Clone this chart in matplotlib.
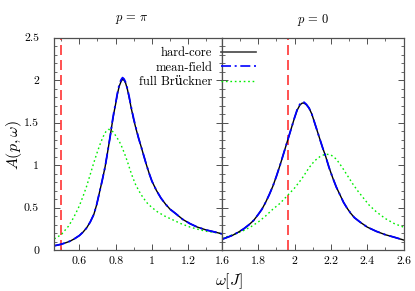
import matplotlib
matplotlib.use("Agg")
import matplotlib.pyplot as plt
from matplotlib.ticker import MultipleLocator, FixedLocator, FixedFormatter
from matplotlib.lines import Line2D

plt.rcParams['font.family'] = ['cmr10', 'DejaVu Serif']
plt.rcParams['mathtext.fontset'] = 'cm'
plt.rcParams['axes.formatter.use_mathtext'] = True

# ---------------- data ----------------
# p = pi panel
w_pi_hc = [0.462, 0.48, 0.50, 0.525, 0.55, 0.575, 0.60, 0.62, 0.64, 0.66, 0.68, 0.695,
           0.71, 0.725, 0.742, 0.757, 0.77, 0.78, 0.79, 0.80, 0.81, 0.82, 0.83, 0.838,
           0.846, 0.855, 0.865, 0.875, 0.885, 0.90, 0.913, 0.926, 0.94, 0.955, 0.97,
           0.985, 1.00, 1.025, 1.05, 1.075, 1.10, 1.13, 1.17, 1.21, 1.25, 1.30, 1.35, 1.386]
A_pi_hc = [0.05, 0.058, 0.068, 0.085, 0.105, 0.135, 0.17, 0.21, 0.26, 0.33, 0.42, 0.53,
           0.67, 0.81, 0.98, 1.17, 1.34, 1.48, 1.61, 1.72, 1.84, 1.93, 1.985, 2.01,
           2.00, 1.965, 1.89, 1.79, 1.68, 1.53, 1.42, 1.32, 1.22, 1.11, 1.00,
           0.90, 0.81, 0.70, 0.61, 0.54, 0.48, 0.43, 0.36, 0.31, 0.27, 0.235, 0.21, 0.19]
A_pi_mf = [0.05, 0.058, 0.068, 0.085, 0.105, 0.135, 0.17, 0.21, 0.26, 0.33, 0.42, 0.53,
           0.67, 0.81, 0.98, 1.17, 1.34, 1.49, 1.62, 1.73, 1.85, 1.95, 2.005, 2.03,
           2.015, 1.975, 1.90, 1.80, 1.69, 1.54, 1.43, 1.32, 1.22, 1.11, 1.00,
           0.90, 0.81, 0.70, 0.61, 0.54, 0.48, 0.43, 0.36, 0.31, 0.27, 0.235, 0.21, 0.19]
w_pi_br = [0.462, 0.48, 0.50, 0.52, 0.54, 0.56, 0.58, 0.60, 0.62, 0.64, 0.66, 0.68, 0.70,
           0.715, 0.73, 0.745, 0.76, 0.775, 0.79, 0.805, 0.82, 0.835, 0.85, 0.865, 0.88,
           0.895, 0.91, 0.93, 0.95, 0.975, 1.00, 1.03, 1.07, 1.11, 1.16, 1.21, 1.26,
           1.30, 1.35, 1.386]
A_pi_br = [0.13, 0.155, 0.18, 0.23, 0.28, 0.35, 0.43, 0.52, 0.63, 0.75, 0.89, 1.03, 1.16,
           1.25, 1.33, 1.39, 1.42, 1.415, 1.38, 1.33, 1.28, 1.21, 1.13, 1.04, 0.94,
           0.85, 0.77, 0.69, 0.62, 0.55, 0.50, 0.45, 0.40, 0.36, 0.31, 0.27, 0.24,
           0.22, 0.205, 0.19]

# p = 0 panel
w_0_hc = [1.60, 1.63, 1.66, 1.69, 1.72, 1.75, 1.775, 1.80, 1.82, 1.84, 1.86, 1.88, 1.90,
          1.92, 1.94, 1.96, 1.98, 2.00, 2.015, 2.03, 2.042, 2.052, 2.065, 2.08, 2.095,
          2.11, 2.125, 2.14, 2.155, 2.17, 2.19, 2.21, 2.23, 2.25, 2.27, 2.29, 2.31, 2.33,
          2.36, 2.40, 2.45, 2.50, 2.55, 2.60]
A_0_hc = [0.126, 0.15, 0.175, 0.21, 0.25, 0.30, 0.35, 0.42, 0.48, 0.56, 0.65, 0.75, 0.87,
          1.00, 1.14, 1.28, 1.42, 1.56, 1.65, 1.71, 1.73, 1.73, 1.71, 1.67, 1.60,
          1.50, 1.40, 1.30, 1.20, 1.11, 0.97, 0.85, 0.74, 0.65, 0.56, 0.49, 0.43, 0.38,
          0.33, 0.27, 0.22, 0.18, 0.15, 0.118]
A_0_mf = [0.126, 0.15, 0.175, 0.21, 0.25, 0.30, 0.35, 0.42, 0.48, 0.56, 0.65, 0.75, 0.87,
          1.00, 1.14, 1.28, 1.42, 1.56, 1.66, 1.72, 1.745, 1.74, 1.715, 1.67, 1.60,
          1.50, 1.40, 1.30, 1.20, 1.11, 0.97, 0.85, 0.74, 0.65, 0.56, 0.49, 0.43, 0.38,
          0.33, 0.27, 0.22, 0.18, 0.15, 0.118]
w_0_br = [1.60, 1.64, 1.68, 1.72, 1.76, 1.80, 1.84, 1.88, 1.92, 1.96, 2.00, 2.04, 2.08,
          2.11, 2.14, 2.17, 2.20, 2.23, 2.26, 2.29, 2.32, 2.35, 2.38, 2.41, 2.45, 2.50,
          2.55, 2.60]
A_0_br = [0.14, 0.165, 0.195, 0.23, 0.275, 0.33, 0.40, 0.48, 0.55, 0.64, 0.73, 0.84, 0.97,
          1.05, 1.10, 1.13, 1.12, 1.07, 0.98, 0.88, 0.78, 0.69, 0.61, 0.53, 0.45, 0.37,
          0.31, 0.27]

# thresholds (red dashed)
thr_pi = 0.497
thr_0 = 1.966

xlim_pi = (0.462, 1.386)
xlim_0 = (1.6, 2.6)
ylim = (0, 2.5)

xticks_pi = [0.6, 0.8, 1.0, 1.2]
xticklabels_pi = ['0.6', '0.8', '1', '1.2']
xticks_0 = [1.6, 1.8, 2.0, 2.2, 2.4, 2.6]
xticklabels_0 = ['1.6', '1.8', '2', '2.2', '2.4', '2.6']
yticks = [0, 0.5, 1.0, 1.5, 2.0, 2.5]
yticklabels = ['0', '0.5', '1', '1.5', '2', '2.5']

labels = ['hard-core', 'mean-field', 'full Br\u00fcckner']

# ---------------- figure ----------------
W, H = 415, 291
fig = plt.figure(figsize=(W / 100, H / 100), dpi=100)
x0, x1, x2 = 54.3, 222.0, 403.5
ytop, ybot = 37.7, 250.0
ax1 = fig.add_axes([x0 / W, 1 - ybot / H, (x1 - x0) / W, (ybot - ytop) / H])
ax2 = fig.add_axes([x1 / W, 1 - ybot / H, (x2 - x1) / W, (ybot - ytop) / H])

spine_col = '#505050'
c_hc = 'black'
c_mf = '#0000ff'
c_br = '#00ee00'
c_thr = '#ff3333'
mf_dash = (6, 2.2, 1.2, 2.2)
br_dash = (1.2, 2.0)

for ax, w_hc, a_hc, a_mf, w_br, a_br, thr in [
        (ax1, w_pi_hc, A_pi_hc, A_pi_mf, w_pi_br, A_pi_br, thr_pi),
        (ax2, w_0_hc, A_0_hc, A_0_mf, w_0_br, A_0_br, thr_0)]:
    ax.axvline(thr, color=c_thr, lw=1.2, dashes=(6, 3))
    ax.plot(w_br, a_br, color=c_br, lw=1.0, dashes=br_dash)
    ax.plot(w_hc, a_hc, color=c_hc, lw=1.0)
    ax.plot(w_hc, a_mf, color=c_mf, lw=1.3, dashes=mf_dash)
    ax.set_ylim(*ylim)
    ax.yaxis.set_major_locator(FixedLocator(yticks))
    ax.yaxis.set_minor_locator(MultipleLocator(0.1))
    ax.xaxis.set_minor_locator(MultipleLocator(0.1))
    ax.tick_params(which='both', direction='in', top=True, right=True,
                   color=spine_col, labelsize=8.5)
    ax.tick_params(which='major', length=4, width=0.7)
    ax.tick_params(which='minor', length=2.5, width=0.6)
    ax.tick_params(axis='x', pad=5)
    for s in ax.spines.values():
        s.set_color(spine_col)
        s.set_linewidth(0.9)

ax1.set_xlim(*xlim_pi)
ax2.set_xlim(*xlim_0)
ax1.xaxis.set_major_locator(FixedLocator(xticks_pi))
ax1.xaxis.set_major_formatter(FixedFormatter(xticklabels_pi))
ax2.xaxis.set_major_locator(FixedLocator(xticks_0))
ax2.xaxis.set_major_formatter(FixedFormatter(xticklabels_0))
ax1.yaxis.set_major_formatter(FixedFormatter(yticklabels))
ax1.tick_params(axis='y', pad=11)
ax2.tick_params(axis='y', labelleft=False)

fig.text(13.5 / W, 1 - 145 / H, r'$A(p,\omega)$', fontsize=11.5, rotation=90,
         ha='center', va='center')
fig.text(229 / W, 1 - 281 / H, r'$\omega[J]$', fontsize=11.5, ha='center', va='center')
fig.text(131.5 / W, 1 - 20 / H, r'$p\,=\,\pi$', fontsize=9, ha='center', va='center')
fig.text(313 / W, 1 - 20 / H, r'$p\,=\,0$', fontsize=9, ha='center', va='center')

handles = [Line2D([], [], color='#444444', lw=1.2),
           Line2D([], [], color=c_mf, lw=1.2, dashes=mf_dash),
           Line2D([], [], color=c_br, lw=1.0, dashes=br_dash)]
fig.legend(handles, labels, loc='upper right', bbox_to_anchor=(256 / W, 1 - 47 / H),
           markerfirst=False, frameon=False, fontsize=9, handlelength=2.8,
           handletextpad=0.7, labelspacing=0.2, borderpad=0, borderaxespad=0)

fig.savefig('out.png', dpi=100)
